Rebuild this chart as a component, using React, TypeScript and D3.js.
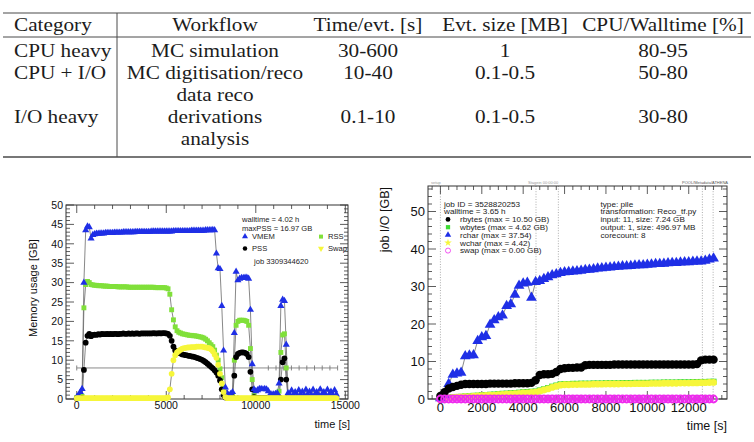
import { useEffect, useRef } from "react";
import * as d3 from "d3";

const W = 754;
const H = 442;
const sans = "'Liberation Sans', Arial, Helvetica, sans-serif";
const serif = "'Liberation Serif', 'Times New Roman', serif";

// ---------- table ----------
const tableHeader = ["Category", "Workflow", "Time/evt. [s]", "Evt. size [MB]", "CPU/Walltime [%]"];
const tableCategories = ["CPU heavy", "CPU + I/O", "I/O heavy"];
const tableWorkflows = [["MC simulation"], ["MC digitisation/reco"], ["data reco", "derivations", "analysis"]];
const tableTimePerEvt = ["30-600", "10-40", "0.1-10"];
const tableEvtSize = ["1", "0.1-0.5", "0.1-0.5"];
const tableCpuWall = ["80-95", "50-80", "30-80"];

// ---------- memory plot (left), one sample every 100 s ----------
const memSampleStep = 100;
const memVmem = [
  0.5, 1.0, 1.8, 2.6, 30.0, 43.5, 44.5, 44.3, 41.4, 42.3,
  42.5, 42.6, 42.6, 42.7, 42.7, 42.7, 42.8, 42.8, 42.8, 42.8,
  42.8, 42.9, 42.9, 42.9, 42.9, 42.9, 43.0, 43.0, 43.0, 43.0,
  43.0, 43.0, 43.0, 43.1, 43.1, 43.1, 43.1, 43.1, 43.1, 43.1,
  43.1, 43.1, 43.2, 43.2, 43.2, 43.2, 43.2, 43.2, 43.2, 43.2,
  43.2, 43.2, 43.2, 43.2, 43.3, 43.3, 43.3, 43.3, 43.3, 43.3,
  43.3, 43.3, 43.3, 43.3, 43.4, 43.4, 43.4, 43.4, 43.4, 43.4,
  43.4, 43.4, 43.5, 43.5, 43.5, 43.5, 43.6, 43.5, 37.5, 33.7,
  33.5, 24.0, 12.5, 3.0, 1.5, 1.0, 1.3, 1.8, 17.0, 32.8,
  30.6, 31.0, 31.2, 31.2, 31.3, 31.3, 31.0, 23.0, 9.0, 2.5,
  2.0, 2.3, 2.6, 2.6, 2.5, 2.6, 2.5, 2.0, 1.2, 1.2,
  1.2, 1.3, 1.5, 4.0, 24.0, 25.6, 25.3, 14.0, 1.5, 1.2,
  2.2, 1.0, 1.8, 1.0, 2.3, 1.2, 1.9, 1.0, 2.4, 1.2,
  1.9, 1.0, 2.4, 1.1, 1.8, 1.0, 2.5, 1.2, 1.8, 1.0,
  2.4, 1.2, 1.9, 1.0, 2.3, 1.2,
];
const memPss = [
  0.2, 0.2, 0.3, 0.3, 7.5, 14.5, 16.3, 16.8, 16.2, 16.5,
  16.6, 16.5, 16.7, 16.6, 16.8, 16.7, 16.7, 16.8, 16.7, 16.8,
  16.7, 16.8, 16.8, 16.7, 16.8, 16.8, 16.9, 16.8, 16.8, 16.9,
  16.8, 16.9, 16.8, 16.9, 16.9, 16.8, 16.9, 16.9, 16.9, 16.9,
  16.9, 16.9, 16.9, 17.0, 16.9, 16.9, 17.0, 16.9, 17.0, 17.0,
  16.9, 16.8, 16.3, 15.0, 13.5, 12.5, 12.1, 11.9, 11.7, 11.5,
  11.4, 11.3, 11.2, 11.1, 11.0, 10.9, 10.8, 10.6, 10.5, 10.3,
  10.1, 9.8, 9.5, 9.1, 8.7, 8.3, 7.9, 7.4, 6.8, 6.0,
  4.8, 2.5, 1.0, 0.4, 0.3, 0.3, 0.3, 0.5, 6.0, 10.8,
  11.6, 11.9, 12.0, 12.0, 11.9, 11.6, 10.8, 7.0, 2.5, 0.5,
  0.3, 0.3, 0.3, 0.3, 0.3, 0.3, 0.3, 0.3, 0.3, 0.3,
  0.3, 0.3, 0.3, 0.5, 5.0, 9.5, 10.5, 5.0, 0.4, 0.3,
  0.3, 0.3, 0.3, 0.3, 0.3, 0.3, 0.3, 0.3, 0.3, 0.3,
  0.3, 0.3, 0.3, 0.3, 0.3, 0.3, 0.3, 0.3, 0.3, 0.3,
  0.3, 0.3, 0.3, 0.3, 0.3, 0.3,
];
const memRss = [
  0.4, 0.5, 0.6, 0.7, 23.5, 29.5, 30.3, 30.0, 29.5, 29.4,
  29.3, 29.3, 29.2, 29.2, 29.2, 29.1, 29.1, 29.1, 29.0, 29.0,
  29.0, 29.0, 29.0, 28.9, 28.9, 28.9, 28.9, 28.9, 28.9, 28.8,
  28.8, 28.8, 28.8, 28.8, 28.8, 28.8, 28.8, 28.8, 28.8, 28.8,
  28.8, 28.8, 28.8, 28.8, 28.7, 28.7, 28.7, 28.7, 28.7, 28.7,
  28.6, 28.4, 27.0, 23.0, 20.4, 18.6, 17.6, 17.2, 17.0, 16.8,
  16.7, 16.6, 16.5, 16.4, 16.4, 16.3, 16.3, 16.2, 16.1, 16.0,
  15.9, 15.7, 15.4, 15.0, 14.5, 14.0, 13.5, 12.6, 11.3, 10.0,
  7.8, 5.5, 3.0, 1.2, 0.5, 0.4, 0.4, 0.6, 10.0, 19.0,
  20.0, 20.3, 20.3, 20.3, 20.2, 20.0, 19.0, 13.0, 5.0, 1.0,
  0.4, 0.4, 0.4, 0.4, 0.4, 0.4, 0.4, 0.4, 0.4, 0.4,
  0.4, 0.4, 0.4, 2.0, 12.0, 16.5, 16.8, 8.0, 0.5, 0.4,
  0.4, 0.4, 0.4, 0.4, 0.4, 0.4, 0.4, 0.4, 0.4, 0.4,
  0.4, 0.4, 0.4, 0.4, 0.4, 0.4, 0.4, 0.4, 0.4, 0.4,
  0.4, 0.4, 0.4, 0.4, 0.4, 0.4,
];
const memSwap = [
  0.2, 0.2, 0.2, 0.2, 0.2, 0.2, 0.2, 0.2, 0.2, 0.2,
  0.2, 0.2, 0.2, 0.2, 0.2, 0.2, 0.2, 0.2, 0.2, 0.2,
  0.2, 0.2, 0.2, 0.2, 0.2, 0.2, 0.2, 0.2, 0.2, 0.2,
  0.2, 0.2, 0.2, 0.2, 0.2, 0.2, 0.2, 0.2, 0.2, 0.2,
  0.2, 0.2, 0.2, 0.2, 0.2, 0.2, 0.2, 0.2, 0.2, 0.2,
  0.2, 0.4, 2.5, 6.5, 10.0, 11.3, 12.0, 12.4, 12.7, 13.0,
  13.1, 13.2, 13.3, 13.3, 13.4, 13.4, 13.4, 13.5, 13.5, 13.5,
  13.5, 13.4, 13.3, 13.2, 13.1, 12.8, 12.3, 11.5, 10.6, 8.8,
  6.5, 4.0, 1.8, 0.5, 0.2, 0.2, 0.2, 0.2, 0.2, 0.2,
  0.2, 0.2, 0.2, 0.2, 0.2, 0.2, 0.2, 0.2, 0.2, 0.2,
  0.2, 0.2, 0.2, 0.2, 0.2, 0.2, 0.2, 0.2, 0.2, 0.2,
  0.2, 0.2, 0.2, 0.2, 0.2, 0.2, 0.2, 0.2, 0.2, 0.2,
  0.2, 0.2, 0.2, 0.2, 0.2, 0.2, 0.2, 0.2, 0.2, 0.2,
  0.2, 0.2, 0.2, 0.2, 0.2, 0.2, 0.2, 0.2, 0.2, 0.2,
  0.2, 0.2, 0.2, 0.2, 0.2, 0.2,
];
const memCoreLevel = 8;
const memCoreMarks = [0, 10700, 11130, 11560, 11990, 12420, 12850, 13280, 13710, 14140, 14570];
const memTimeTicks = [0, 5000, 10000, 15000];
const memValueTicks = [0, 5, 10, 15, 20, 25, 30, 35, 40, 45, 50];
const memInfo = ["walltime = 4.02 h", "maxPSS = 16.97 GB"];
const memLegend = ["VMEM", "RSS", "PSS", "Swap"];
const memJob = "job 3309344620";

// ---------- job I/O plot (right), one sample every 200 s ----------
const ioSampleStep = 200;
const ioRchar = [
  0.2, 1.0, 4.0, 6.5, 6.8, 7.0, 11.4, 11.6, 11.7, 15.5,
  16.5, 16.8, 19.8, 21.0, 21.8, 22.3, 24.8, 25.3, 27.8, 30.2,
  30.8, 31.0, 27.0, 31.2, 31.5, 32.0, 32.5, 33.0, 33.3, 33.6,
  33.8, 33.9, 34.0, 34.1, 34.2, 34.4, 34.5, 34.6, 34.8, 34.9,
  35.0, 35.1, 35.2, 35.3, 35.4, 35.4, 35.5, 35.6, 35.7, 35.7,
  35.8, 35.9, 36.0, 36.0, 36.1, 36.2, 36.3, 36.3, 36.4, 36.5,
  36.5, 36.6, 36.7, 36.7, 36.9, 37.2, 37.5,
];
const ioRbytes = [
  0.8, 1.8, 2.8, 3.2, 3.5, 3.8, 4.0, 4.0, 4.0, 4.0,
  4.0, 4.0, 4.1, 4.1, 4.1, 4.1, 4.1, 4.1, 4.2, 4.2,
  4.2, 4.2, 4.3, 5.0, 6.4, 6.6, 6.6, 6.7, 7.2, 8.0,
  8.2, 8.3, 8.3, 8.4, 8.4, 9.0, 9.1, 9.1, 9.1, 9.1,
  9.1, 9.1, 9.2, 9.2, 9.2, 9.2, 9.2, 9.2, 9.2, 9.2,
  9.2, 9.2, 9.2, 9.2, 9.2, 9.2, 9.2, 9.2, 9.2, 9.2,
  9.2, 9.2, 9.3, 10.3, 10.5, 10.5, 10.5,
];
const ioWbytes = [
  0.1, 0.25, 0.35, 0.45, 0.55, 0.6, 0.7, 0.75, 0.85, 0.9,
  1.0, 1.05, 1.15, 1.2, 1.3, 1.4, 1.45, 1.55, 1.6, 1.7,
  1.8, 1.85, 1.95, 2.0, 2.3, 2.6, 2.9, 3.3, 3.6, 3.9,
  4.0, 4.0, 4.05, 4.05, 4.1, 4.1, 4.1, 4.15, 4.15, 4.15,
  4.2, 4.2, 4.2, 4.2, 4.25, 4.25, 4.25, 4.3, 4.3, 4.3,
  4.3, 4.35, 4.35, 4.35, 4.4, 4.4, 4.4, 4.4, 4.45, 4.45,
  4.45, 4.5, 4.5, 4.55, 4.55, 4.6, 4.62,
];
const ioWchar = [
  0.05, 0.2, 0.3, 0.4, 0.5, 0.55, 0.6, 0.65, 0.75, 0.8,
  0.9, 0.95, 1.0, 1.05, 1.15, 1.2, 1.3, 1.35, 1.4, 1.5,
  1.6, 1.65, 1.75, 1.8, 2.1, 2.4, 2.7, 3.1, 3.4, 3.7,
  3.8, 3.8, 3.85, 3.85, 3.9, 3.9, 3.9, 3.95, 3.95, 3.95,
  4.0, 4.0, 4.0, 4.0, 4.05, 4.05, 4.05, 4.1, 4.1, 4.1,
  4.1, 4.15, 4.15, 4.15, 4.2, 4.2, 4.2, 4.2, 4.25, 4.25,
  4.25, 4.3, 4.3, 4.35, 4.35, 4.4, 4.42,
];
const ioSwap = [
  0, 0, 0, 0, 0, 0, 0, 0, 0, 0,
  0, 0, 0, 0, 0, 0, 0, 0, 0, 0,
  0, 0, 0, 0, 0, 0, 0, 0, 0, 0,
  0, 0, 0, 0, 0, 0, 0, 0, 0, 0,
  0, 0, 0, 0, 0, 0, 0, 0, 0, 0,
  0, 0, 0, 0, 0, 0, 0, 0, 0, 0,
  0, 0, 0, 0, 0, 0, 0,
];
const ioStepTimes = [0, 4620, 5700, 12660, 13180];
const ioTopLabels = ["setup", "Stagein 00:00:00", "POOL/Metadata/ATHENA"];
const ioTimeTicks = [0, 2000, 4000, 6000, 8000, 10000, 12000];
const ioValueTicks = [0, 10, 20, 30, 40, 50];
const ioInfo = ["job ID = 3528820253", "walltime = 3.65 h"];
const ioLegend = ["rbytes (max = 10.50 GB)", "wbytes (max = 4.62 GB)", "rchar (max = 37.54)", "wchar (max = 4.42)", "swap (max = 0.00 GB)"];
const ioJobInfo = ["type: pile", "transformation:  Reco_tf.py", "input: 11, size: 7.24 GB", "output: 1, size: 496.97 MB", "corecount: 8"];

const BLUE = "#1f2fe6";
const GREEN = "#80e03a";
const IO_GREEN = "#3fdc34";
const YELLOW = "#f6f63a";
const MAGENTA = "#ee2bee";

function frame(g, x, y, xMajor, xMinor, yMajor, yMinor, major, minor) {
  const [x0, x1] = x.range();
  const [y0, y1] = y.range();
  const tick = (a, b, c, d) =>
    g.append("line").attr("x1", a).attr("y1", b).attr("x2", c).attr("y2", d)
      .attr("stroke", "#333").attr("stroke-width", 0.8);
  xMajor.forEach((v) => { const p = x(v); tick(p, y0, p, y0 - major); tick(p, y1, p, y1 + major); });
  xMinor.forEach((v) => { const p = x(v); tick(p, y0, p, y0 - minor); tick(p, y1, p, y1 + minor); });
  yMajor.forEach((v) => { const p = y(v); tick(x0, p, x0 + major, p); tick(x1, p, x1 - major, p); });
  yMinor.forEach((v) => { const p = y(v); tick(x0, p, x0 + minor, p); tick(x1, p, x1 - minor, p); });
  g.append("rect").attr("x", x0).attr("y", y1).attr("width", x1 - x0).attr("height", y0 - y1)
    .attr("fill", "none").attr("stroke", "#333").attr("stroke-width", 1);
}

function minors(domain, step, majors) {
  return d3.range(Math.ceil(domain[0] / step) * step, domain[1], step).filter((v) => !majors.includes(v));
}

function seriesLine(g, x, y, step, values) {
  const pts = values.map((v, i) => [i * step, v]);
  g.append("path").datum(pts)
    .attr("d", d3.line().x((d) => x(d[0])).y((d) => y(d[1])))
    .attr("fill", "none").attr("stroke", "#6a6a6a").attr("stroke-width", 0.8);
}

function seriesMarks(g, x, y, step, values, type, size, fill, open = false) {
  const pts = values.map((v, i) => [i * step, v]);
  const sym = d3.symbol().type(type).size(size)();
  g.selectAll(null).data(pts).join("path")
    .attr("transform", (d) => `translate(${x(d[0])},${y(d[1])})`)
    .attr("d", sym)
    .attr("fill", open ? "none" : fill)
    .attr("stroke", open ? fill : "none")
    .attr("stroke-width", 2);
}

function drawTable(svg) {
  const g = svg.append("g");
  const colX = [14, 215, 368, 505, 663];
  const put = (txt, col, yb) =>
    g.append("text")
      .attr("transform", `translate(${colX[col]},${yb}) scale(1.18,1)`)
      .attr("text-anchor", col === 0 ? "start" : "middle")
      .attr("font-family", serif).attr("font-size", 18).attr("fill", "#1c1c1c")
      .text(txt);
  const rule = (y, w) =>
    g.append("line").attr("x1", 3).attr("x2", 751).attr("y1", y).attr("y2", y)
      .attr("stroke", "#4a4a4a").attr("stroke-width", w);
  rule(13, 1.2);
  rule(37, 1);
  rule(157, 1.6);
  g.append("line").attr("x1", 117).attr("x2", 117).attr("y1", 13).attr("y2", 157)
    .attr("stroke", "#4a4a4a").attr("stroke-width", 1);

  tableHeader.forEach((h, i) => put(h, i, 30.5));
  const base = 56.5;
  const lh = 22;
  const rowLine = [0, 1, 3];
  tableCategories.forEach((c, r) => {
    const yb = base + rowLine[r] * lh;
    put(c, 0, yb);
    put(tableTimePerEvt[r], 2, yb);
    put(tableEvtSize[r], 3, yb);
    put(tableCpuWall[r], 4, yb);
    const wf = tableWorkflows[r];
    const start = rowLine[r] - (wf.length - 1) / 2;
    wf.forEach((w, k) => put(w, 1, base + (start + k) * lh));
  });
}

function drawMemory(svg) {
  const g = svg.append("g");
  const x = d3.scaleLinear().domain([-600, 15150]).range([66, 348]);
  const y = d3.scaleLinear().domain([0, 50]).range([399, 205]);

  frame(g, x, y, memTimeTicks, minors([-600, 15150], 1000, memTimeTicks),
    memValueTicks, minors([0, 50], 1, memValueTicks), 8, 4);

  g.selectAll(null).data(memValueTicks).join("text")
    .attr("x", 63).attr("y", (d) => y(d)).attr("dy", "0.36em")
    .attr("text-anchor", "end").attr("font-family", sans).attr("font-size", 10.5).attr("fill", "#111")
    .text((d) => d);
  g.selectAll(null).data(memTimeTicks).join("text")
    .attr("x", (d) => x(d)).attr("y", 409)
    .attr("text-anchor", "middle").attr("font-family", sans).attr("font-size", 10.5).attr("fill", "#111")
    .text((d) => d);
  g.append("text").attr("x", 350).attr("y", 428).attr("text-anchor", "end")
    .attr("font-family", sans).attr("font-size", 11).attr("fill", "#111").text("time [s]");
  g.append("text").attr("transform", `translate(37,288) rotate(-90)`).attr("text-anchor", "middle")
    .attr("font-family", sans).attr("font-size", 11).attr("fill", "#111").text("Memory usage [GB]");

  // core-count reference line with cross marks
  g.append("line").attr("x1", x(memCoreMarks[0])).attr("x2", x(memCoreMarks[memCoreMarks.length - 1]))
    .attr("y1", y(memCoreLevel)).attr("y2", y(memCoreLevel)).attr("stroke", "#8a8a8a").attr("stroke-width", 1);
  g.selectAll(null).data(memCoreMarks).join("line")
    .attr("x1", (d) => x(d)).attr("x2", (d) => x(d))
    .attr("y1", y(memCoreLevel) - 2.5).attr("y2", y(memCoreLevel) + 2.5)
    .attr("stroke", "#777").attr("stroke-width", 0.9);

  [memRss, memPss, memVmem, memSwap].forEach((s) => seriesLine(g, x, y, memSampleStep, s));
  seriesMarks(g, x, y, memSampleStep, memRss, d3.symbolSquare, 24, GREEN);
  seriesMarks(g, x, y, memSampleStep, memPss, d3.symbolCircle, 26, "#000");
  seriesMarks(g, x, y, memSampleStep, memVmem, d3.symbolTriangle, 22, BLUE);
  seriesMarks(g, x, y, memSampleStep, memSwap, d3.symbolCircle, 26, YELLOW);

  // legend
  const txt = (s, tx, ty) =>
    g.append("text").attr("x", tx).attr("y", ty).attr("font-family", sans).attr("font-size", 7.6)
      .attr("fill", "#222").text(s);
  txt(memInfo[0], 242, 222.4);
  txt(memInfo[1], 242, 230.8);
  const legendPos = [[245, 236.6], [321, 236.6], [245, 248.4], [321, 248.4]];
  const legendSym = [d3.symbolTriangle, d3.symbolSquare, d3.symbolCircle, d3.symbolTriangle];
  const legendCol = [BLUE, GREEN, "#000", YELLOW];
  memLegend.forEach((name, i) => {
    const [lx, ly] = legendPos[i];
    g.append("path").attr("transform", `translate(${lx},${ly})${i === 3 ? " rotate(180)" : ""}`)
      .attr("d", d3.symbol().type(legendSym[i]).size(16)()).attr("fill", legendCol[i]);
    txt(name, lx + 7, ly + 2.8);
  });
  txt(memJob, 254, 263.5);
}

function drawIO(svg) {
  const g = svg.append("g");
  const x = d3.scaleLinear().domain([-600, 13850]).range([428, 727]);
  const y = d3.scaleLinear().domain([0, 56.8]).range([399, 186]);

  // dotted step markers
  g.selectAll(null).data(ioStepTimes).join("line")
    .attr("x1", (d) => x(d)).attr("x2", (d) => x(d)).attr("y1", 186).attr("y2", 399)
    .attr("stroke", "#8a8a8a").attr("stroke-width", 0.7).attr("stroke-dasharray", "1,1.6");
  const topLabelX = [431, 528, 682];
  ioTopLabels.forEach((s, i) =>
    g.append("text").attr("x", topLabelX[i]).attr("y", 184).attr("font-family", sans)
      .attr("font-size", 4).attr("fill", i === 2 ? "#555" : "#999").text(s));

  frame(g, x, y, ioTimeTicks, minors([-600, 13850], 400, ioTimeTicks),
    ioValueTicks, minors([0, 56.8], 2, ioValueTicks), 8, 4);

  g.selectAll(null).data(ioValueTicks).join("text")
    .attr("x", 425).attr("y", (d) => y(d)).attr("dy", "0.36em")
    .attr("text-anchor", "end").attr("font-family", sans).attr("font-size", 13).attr("fill", "#111")
    .text((d) => d);
  g.selectAll(null).data(ioTimeTicks).join("text")
    .attr("x", (d) => x(d)).attr("y", 412)
    .attr("text-anchor", "middle").attr("font-family", sans).attr("font-size", 13).attr("fill", "#111")
    .text((d) => d);
  g.append("text").attr("x", 727).attr("y", 430).attr("text-anchor", "end")
    .attr("font-family", sans).attr("font-size", 12.5).attr("fill", "#111").text("time [s]");
  g.append("text").attr("transform", `translate(389,187) rotate(-90)`).attr("text-anchor", "end")
    .attr("font-family", sans).attr("font-size", 12.5).attr("fill", "#111").text("job I/O [GB]");

  [ioWbytes, ioWchar, ioRchar, ioRbytes].forEach((s) => seriesLine(g, x, y, ioSampleStep, s));
  seriesMarks(g, x, y, ioSampleStep, ioWbytes, d3.symbolSquare, 36, IO_GREEN);
  seriesMarks(g, x, y, ioSampleStep, ioWchar, d3.symbolCircle, 36, YELLOW);
  seriesMarks(g, x, y, ioSampleStep, ioRchar, d3.symbolTriangle, 50, BLUE);
  seriesMarks(g, x, y, ioSampleStep, ioRbytes, d3.symbolCircle, 56, "#000");
  seriesMarks(g, x, y, ioSampleStep, ioSwap, d3.symbolCircle, 36, MAGENTA, true);

  // legend
  const txt = (s, tx, ty) =>
    g.append("text").attr("transform", `translate(${tx},${ty}) scale(1.12,1)`)
      .attr("font-family", sans).attr("font-size", 7.3).attr("fill", "#222").text(s);
  const lineY = [206.5, 214.3, 222.1, 229.9, 237.7, 245.5, 253.3];
  txt(ioInfo[0], 444, lineY[0]);
  txt(ioInfo[1], 444, lineY[1]);
  const legendSym = [d3.symbolCircle, d3.symbolSquare, d3.symbolTriangle, d3.symbolStar, d3.symbolCircle];
  const legendCol = ["#000", IO_GREEN, BLUE, YELLOW, MAGENTA];
  ioLegend.forEach((name, i) => {
    const ly = lineY[i + 2];
    g.append("path").attr("transform", `translate(448,${ly - 2.7})`)
      .attr("d", d3.symbol().type(legendSym[i]).size(i === 4 ? 20 : 18)())
      .attr("fill", i === 4 ? "none" : legendCol[i])
      .attr("stroke", i === 4 ? MAGENTA : "none").attr("stroke-width", 0.8);
    txt(name, 460, ly);
  });
  ioJobInfo.forEach((s, i) => txt(s, 600.5, lineY[i]));
}

export default function App() {
  const ref = useRef(null);

  useEffect(() => {
    const svg = d3.select(ref.current);
    svg.selectAll("*").remove();
    drawTable(svg);
    drawMemory(svg);
    drawIO(svg);
  }, []);

  return (
    <svg
      ref={ref}
      width={W}
      height={H}
      style={{ position: "absolute", left: 0, top: 0, background: "#fff" }}
    />
  );
}
